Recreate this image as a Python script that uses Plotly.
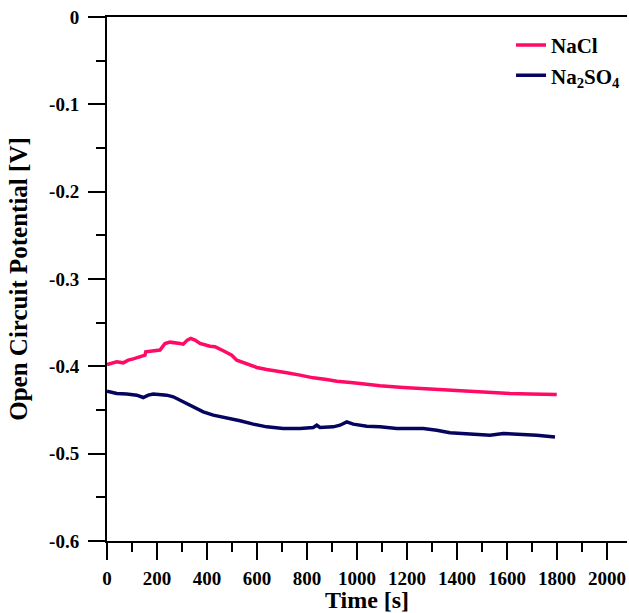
import plotly.graph_objects as go

# NaCl series (time [s], potential [V])
nacl_t = [0, 39, 65, 85, 105, 152, 155, 172, 212, 232, 252, 292, 305, 321, 335, 352, 372, 412, 432,
          465, 499, 519, 559, 599, 639, 679, 719, 772, 825, 879, 919, 985, 1039, 1092, 1185, 1319,
          1452, 1612, 1692, 1799]
nacl_v = [-0.3979, -0.3948, -0.3960, -0.3929, -0.3914, -0.3872, -0.3834, -0.3826, -0.3814, -0.3738,
          -0.3723, -0.3738, -0.3746, -0.3700, -0.3681, -0.3700, -0.3738, -0.3769, -0.3776, -0.3822,
          -0.3872, -0.3929, -0.3975, -0.4013, -0.4036, -0.4051, -0.4074, -0.4101, -0.4132, -0.4150,
          -0.4170, -0.4189, -0.4208, -0.4223, -0.4242, -0.4265, -0.4284, -0.4311, -0.4318, -0.4322]

# Na2SO4 series
na2so4_t = [0, 39, 79, 119, 145, 165, 185, 239, 265, 305, 345, 385, 425, 479, 532, 585, 639, 705,
            772, 825, 839, 852, 905, 932, 959, 985, 1039, 1092, 1159, 1265, 1319, 1372, 1452, 1532,
            1585, 1665, 1719, 1792]
na2so4_v = [-0.4284, -0.4311, -0.4318, -0.4330, -0.4357, -0.4330, -0.4318, -0.4330, -0.4349, -0.4407,
            -0.4471, -0.4521, -0.4559, -0.4590, -0.4624, -0.4662, -0.4693, -0.4712, -0.4712, -0.4700,
            -0.4674, -0.4700, -0.4693, -0.4674, -0.4636, -0.4662, -0.4685, -0.4693, -0.4712, -0.4712,
            -0.4731, -0.4761, -0.4777, -0.4788, -0.4769, -0.4777, -0.4788, -0.4808]

x_tickvals = [0, 200, 400, 600, 800, 1000, 1200, 1400, 1600, 1800, 2000]
x_ticktext = ["0", "200", "400", "600", "800", "1000", "1200", "1400", "1600", "1800", "2000"]
y_tickvals = [0, -0.1, -0.2, -0.3, -0.4, -0.5, -0.6]
y_ticktext = ["0", "-0.1", "-0.2", "-0.3", "-0.4", "-0.5", "-0.6"]

FONT = "Liberation Serif"

fig = go.Figure()
fig.add_trace(go.Scatter(x=nacl_t, y=nacl_v, mode="lines", name="NaCl",
                         line=dict(color="#FF0A64", width=3.5)))
fig.add_trace(go.Scatter(x=na2so4_t, y=na2so4_v, mode="lines", name="Na<sub>2</sub>SO<sub>4</sub>",
                         line=dict(color="#05055F", width=3.5)))

fig.update_layout(
    width=629, height=613,
    margin=dict(l=107, r=2, t=17, b=72),
    paper_bgcolor="white", plot_bgcolor="white",
    font=dict(family=FONT, color="black"),
    showlegend=True,
    legend=dict(x=0.777, y=0.985, xanchor="left", yanchor="top",
                font=dict(family=FONT, size=21, color="black", weight="bold"),
                bgcolor="rgba(0,0,0,0)", borderwidth=0, tracegroupgap=0),
    xaxis=dict(
        range=[0, 2080], showgrid=False, zeroline=False,
        showline=True, linecolor="black", linewidth=2, mirror=True,
        ticks="outside", ticklen=17, tickwidth=2, tickcolor="black",
        tickvals=x_tickvals, ticktext=["<b>%s</b>" % t for t in x_ticktext],
        tickfont=dict(family=FONT, size=19, color="black"),
        ticklabelstandoff=2,
        minor=dict(dtick=100, tick0=0, ticks="outside", ticklen=9, tickwidth=2, tickcolor="black", showgrid=False),
        title=dict(text="<b>Time [s]</b>", font=dict(family=FONT, size=24, color="black"), standoff=2),
    ),
    yaxis=dict(
        range=[-0.6, 0], showgrid=False, zeroline=False,
        showline=True, linecolor="black", linewidth=2, mirror=False,
        ticks="outside", ticklen=17, tickwidth=2, tickcolor="black",
        tickvals=y_tickvals, ticktext=["<b>%s</b>" % t for t in y_ticktext],
        tickfont=dict(family=FONT, size=19, color="black"),
        ticklabelstandoff=5,
        minor=dict(dtick=0.05, tick0=0, ticks="outside", ticklen=9, tickwidth=2, tickcolor="black", showgrid=False),
        title=dict(text="<b>Open Circuit Potential [V]</b>", font=dict(family=FONT, size=25, color="black"), standoff=14),
    ),
)

fig.write_html("out.html")
